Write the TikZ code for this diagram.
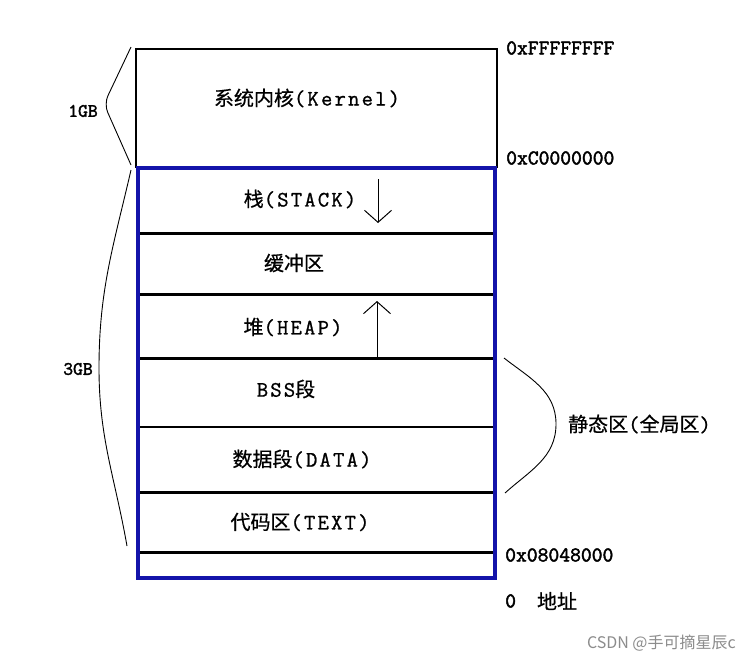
\documentclass[tikz,border=0pt]{standalone}
\usepackage{fontspec}
\setmainfont{Latin Modern Mono}
\newfontfamily\cjk[FakeBold=0.6]{Noto Sans CJK SC}
\newfontfamily\wmfont{Noto Sans CJK SC}
\newfontfamily\boxlat[LetterSpace=10,FakeBold=1]{Latin Modern Mono}
\newfontfamily\hexfont[FakeBold=2]{Latin Modern Mono}
\usetikzlibrary{arrows.meta}
\definecolor{memblue}{RGB}{20,20,170}
\definecolor{wmgray}{RGB}{140,140,140}
\newcommand{\zh}[1]{{\cjk #1}}
\newcommand{\la}[1]{{\boxlat\fontsize{22}{24}\selectfont #1}}
\begin{document}
\begin{tikzpicture}[x=1pt,y=-1pt,
  lbl/.style={inner sep=0pt,anchor=center,font=\fontsize{20}{24}\selectfont},
  hexlbl/.style={inner sep=0pt,anchor=west,font=\hexfont\fontsize{21}{24}\selectfont},
  sizelbl/.style={inner sep=0pt,anchor=center,font=\hexfont\fontsize{19}{22}\selectfont},
  sepline/.style={line width=3pt,black},
  thinline/.style={line width=1.1pt,black},
  braceline/.style={line width=0.9pt,black},
  growarrow/.style={line width=1pt,-{Straight Barb[length=12pt,width=27pt,line width=1pt]}}]
\fill[white] (0,0) rectangle (751,664);
\useasboundingbox (0,0) rectangle (751,664);

% kernel box
\draw[thinline] (136,49) rectangle (497,167);
% separators inside user space
\foreach \yy in {233,294,358,492,552} \draw[sepline] (138,\yy) -- (495,\yy);
\draw[thinline] (138,427) -- (495,427);
% blue user-space box
\draw[memblue,line width=4pt] (138,168) rectangle (495,578);

% labels
\node[lbl] (kernel) at (307,98) {\zh{系统内核}\la{(Kernel)}};
\node[lbl] (stack) at (300,199) {\zh{栈}\la{(STACK)}};
\node[lbl] (buf) at (294,263) {\zh{缓冲区}};
\node[lbl] (heap) at (293,327) {\zh{堆}\la{(HEAP)}};
\node[lbl] (bss) at (286,389) {\la{BSS}\zh{段}};
\node[lbl] (data) at (302,459) {\zh{数据段}\la{(DATA)}};
\node[lbl] (text) at (300,522) {\zh{代码区}\la{(TEXT)}};

% growth arrows
\coordinate (sTop) at (378,179);
\coordinate (sBot) at (378,223);
\coordinate (hBot) at (377,358);
\coordinate (hTop) at (377,301);
\draw[growarrow] (sTop) -- (sBot);
\draw[growarrow] (hBot) -- (hTop);

% addresses
\node[hexlbl] (aF) at (506,48) {0xFFFFFFFF};
\node[hexlbl] (aC) at (506,158) {0xC0000000};
\node[hexlbl] (a8) at (505,555) {0x08048000};
\node[hexlbl] (a0) at (505,601) {0};
\node[lbl,anchor=center] (addr) at (557,601) {\zh{地址}};

% size braces
\coordinate (k1) at (131,47);
\coordinate (k2) at (104,104);
\coordinate (k3) at (131,165);
\draw[braceline,rounded corners=9pt] (k1) -- (k2) -- (k3);
\node[sizelbl] (g1) at (83,111) {1GB};

\coordinate (u1) at (131,170);
\coordinate (u2) at (99,368);
\coordinate (u3) at (127,546);
\draw[braceline] (u1) to[out=-103,in=90] (u2) to[out=-90,in=100] (u3);
\node[sizelbl] (g3) at (78,369) {3GB};

\coordinate (s1) at (504,358);
\coordinate (s2) at (556,424);
\coordinate (s3) at (505,493);
\draw[braceline] (s1) to[out=-38,in=90] (s2) to[out=-90,in=42] (s3);
\node[lbl,anchor=west] (static) at (568,424) {\zh{静态区}\la{(}\zh{全局区}\la{)}};

% watermark
\node[inner sep=0pt,anchor=east,text=wmgray,font=\wmfont\fontsize{16}{19}\selectfont] (wm) at (736,643) {CSDN @手可摘星辰c};
\end{tikzpicture}
\end{document}
